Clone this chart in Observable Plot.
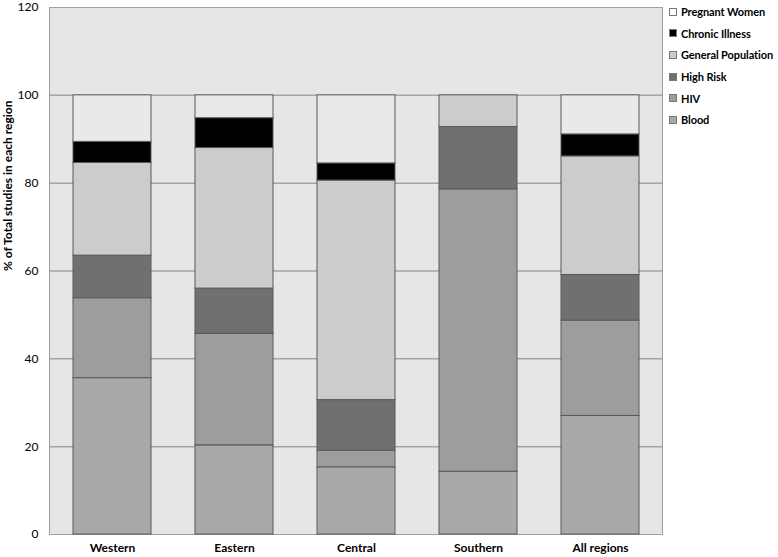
<!DOCTYPE html>
<html>
<head>
<meta charset="utf-8">
<script src="https://cdn.jsdelivr.net/npm/d3@7"></script>
<script src="https://cdn.jsdelivr.net/npm/@observablehq/plot@0.6"></script>
<style>
  html, body { margin: 0; padding: 0; background: #fff; }
  #wrap { position: relative; width: 778px; height: 557px; font-family: Lato, "Open Sans", sans-serif; }
  #legend { position: absolute; left: 669px; top: 1px; font-size: 11px; letter-spacing: -0.1px; font-weight: bold; color: #000; white-space: nowrap; }
  .row { height: 21.6px; display: flex; align-items: center; white-space: nowrap; }
  .sw { width: 6px; height: 6px; border: 1px solid #777; margin-right: 4px; flex: none; }
  svg [aria-label="x-axis tick label"] text { font-weight: bold; }
</style>
</head>
<body>
<div id="wrap"><div id="chart"></div><div id="legend"></div></div>
<script>
const regions = ["Western", "Eastern", "Central", "Southern", "All regions"];
const categories = ["Blood", "HIV", "High Risk", "General Population", "Chronic Illness", "Pregnant Women"];
const blood    = [35.6, 20.3, 15.3, 14.3, 27.0];
const hiv      = [18.2, 25.4, 3.8, 64.3, 21.7];
const highRisk = [9.7, 10.3, 11.5, 14.2, 10.4];
const general  = [21.1, 32.0, 50.0, 7.2, 27.0];
const chronic  = [4.8, 6.8, 3.9, 0, 5.0];
const pregnant = [10.6, 5.2, 15.5, 0, 8.9];
const yTicks = [0, 20, 40, 60, 80, 100, 120];
const colors = ["#a9a9a9", "#9d9d9d", "#707070", "#cccccc", "#000000", "#e9e9e9"];
const legendColors = ["#a9a9a9", "#9d9d9d", "#707070", "#cccccc", "#000000", "#ffffff"];

const series = [blood, hiv, highRisk, general, chronic, pregnant];
const data = [];
categories.forEach((c, i) => regions.forEach((r, j) => {
  if (series[i][j] > 0) data.push({region: r, category: c, value: series[i][j]});
}));

const chart = Plot.plot({
  width: 778,
  height: 557,
  marginLeft: 49,
  marginRight: 116,
  marginTop: 7,
  marginBottom: 23,
  style: {fontFamily: "Lato, 'Open Sans', sans-serif", fontSize: "12px", color: "#000", background: "#fff", overflow: "visible"},
  x: {domain: regions, paddingInner: 0.364, paddingOuter: 0.182, label: null},
  y: {domain: [0, 120], label: null},
  color: {domain: categories, range: colors},
  marks: [
    Plot.frame({fill: "#e6e6e6", stroke: "#a0a0a0"}),
    Plot.ruleY(yTicks.slice(1, -1), {stroke: "#a3a3a3", strokeWidth: 1.5}),
    Plot.barY(data, Plot.stackY({order: categories}, {x: "region", y: "value", fill: "category", stroke: "#585858", strokeWidth: 1})),
    Plot.axisY({ticks: yTicks, tickSize: 0, tickPadding: 11, label: null}),
    Plot.axisX({tickSize: 0, tickPadding: 9, label: null}),
    Plot.text(["% of Total studies in each region"], {frameAnchor: "left", dx: -41, rotate: -90, fontWeight: "bold", fontSize: 12})
  ]
});
document.getElementById("chart").appendChild(chart);

const legend = document.getElementById("legend");
categories.slice().reverse().forEach((c, k) => {
  const i = categories.length - 1 - k;
  const row = document.createElement("div");
  row.className = "row";
  const sw = document.createElement("div");
  sw.className = "sw";
  sw.style.background = legendColors[i];
  row.appendChild(sw);
  row.appendChild(document.createTextNode(c));
  legend.appendChild(row);
});
</script>
</body>
</html>
